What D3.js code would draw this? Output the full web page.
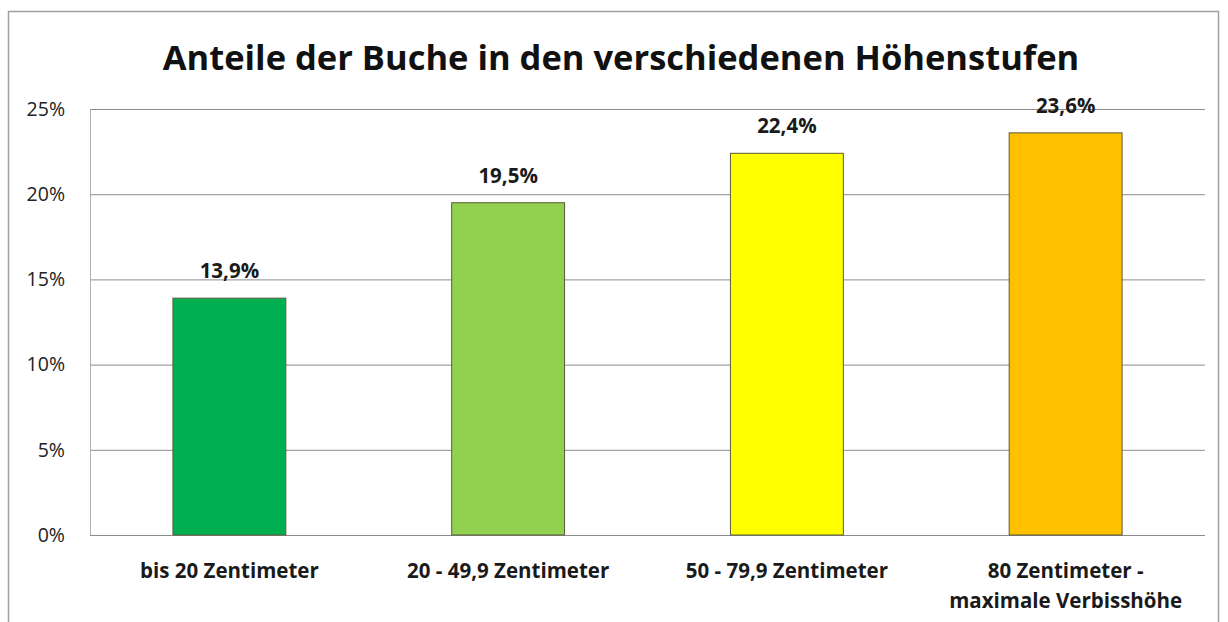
<!DOCTYPE html>
<html>
<head>
<meta charset="utf-8">
<script src="https://cdn.jsdelivr.net/npm/d3@7"></script>
<style>
  body { margin: 0; background: #fff; }
  svg { font-family: "Open Sans", "Noto Sans", sans-serif; }
</style>
</head>
<body>
<svg id="chart" width="1228" height="622"></svg>
<script>
var categories = ["bis 20 Zentimeter", "20 - 49,9 Zentimeter", "50 - 79,9 Zentimeter", "80 Zentimeter -|maximale Verbisshöhe"];
var values = [13.9, 19.5, 22.4, 23.6];
var barColors = ["#00b050", "#92d050", "#ffff00", "#ffc000"];
var yTicks = [0, 5, 10, 15, 20, 25];
var title = "Anteile der Buche in den verschiedenen Höhenstufen";

var svg = d3.select("#chart");

// outer chart frame
svg.append("rect")
    .attr("x", 8.5).attr("y", 11.5)
    .attr("width", 1210).attr("height", 620)
    .attr("fill", "#fff")
    .attr("stroke", "#a0a0a0")
    .attr("stroke-width", 1.5);

var plot = { left: 90, right: 1205, top: 109, bottom: 535 };

var x = d3.scaleBand()
    .domain(categories)
    .range([plot.left, plot.right])
    .paddingInner(0.595)
    .paddingOuter(0.2975);

var y = d3.scaleLinear()
    .domain([0, 25])
    .range([plot.bottom, plot.top]);

// gridlines
svg.append("g")
    .selectAll("line")
    .data(yTicks)
    .enter().append("line")
      .attr("x1", plot.left).attr("x2", plot.right)
      .attr("y1", function(d) { return y(d) + 0.5; })
      .attr("y2", function(d) { return y(d) + 0.5; })
      .attr("stroke", "#8c8c8c")
      .attr("stroke-width", 1);

// plot area left edge
svg.append("line")
    .attr("x1", plot.left + 0.5).attr("x2", plot.left + 0.5)
    .attr("y1", plot.top).attr("y2", plot.bottom)
    .attr("stroke", "#b0b0b0");

// y axis labels
var yAxis = d3.axisLeft(y)
    .tickValues(yTicks)
    .tickSize(0)
    .tickPadding(25)
    .tickFormat(function(d) { return d + "%"; });

var gy = svg.append("g")
    .attr("transform", "translate(" + plot.left + ",0)")
    .call(yAxis);
gy.select(".domain").remove();
gy.selectAll("text")
    .attr("font-size", 19.5)
    .attr("font-family", "Open Sans, sans-serif")
    .attr("fill", "#222");

// bars
svg.append("g")
    .selectAll("rect")
    .data(values)
    .enter().append("rect")
      .attr("x", function(d, i) { return x(categories[i]); })
      .attr("y", function(d) { return y(d); })
      .attr("width", x.bandwidth())
      .attr("height", function(d) { return y(0) - y(d); })
      .attr("fill", function(d, i) { return barColors[i]; })
      .attr("stroke", "#5a5a3a")
      .attr("stroke-width", 1);

// value labels
svg.append("g")
    .selectAll("text")
    .data(values)
    .enter().append("text")
      .attr("x", function(d, i) { return x(categories[i]) + x.bandwidth() / 2; })
      .attr("y", function(d) { return y(d) - 20; })
      .attr("text-anchor", "middle")
      .attr("font-size", 20.5)
      .attr("font-weight", "bold")
      .attr("fill", "#1a1a1a")
      .text(function(d) { return d3.format(".1f")(d).replace(".", ",") + "%"; });

// x axis labels
var xl = svg.append("g")
    .selectAll("text")
    .data(categories)
    .enter().append("text")
      .attr("x", function(d) { return x(d) + x.bandwidth() / 2; })
      .attr("y", 578)
      .attr("text-anchor", "middle")
      .attr("font-size", 20.5)
      .attr("font-weight", "bold")
      .attr("fill", "#1a1a1a");

xl.selectAll("tspan")
    .data(function(d) { return d.split("|").map(function(s) { return { s: s, d: d }; }); })
    .enter().append("tspan")
      .attr("x", function(t) { return x(t.d) + x.bandwidth() / 2; })
      .attr("dy", function(t, i) { return i === 0 ? 0 : 30; })
      .text(function(t) { return t.s; });

// title
svg.append("text")
    .attr("x", 621)
    .attr("y", 70)
    .attr("text-anchor", "middle")
    .attr("font-size", 34.5)
    .attr("font-weight", "bold")
    .attr("fill", "#111")
    .text(title);
</script>
</body>
</html>
